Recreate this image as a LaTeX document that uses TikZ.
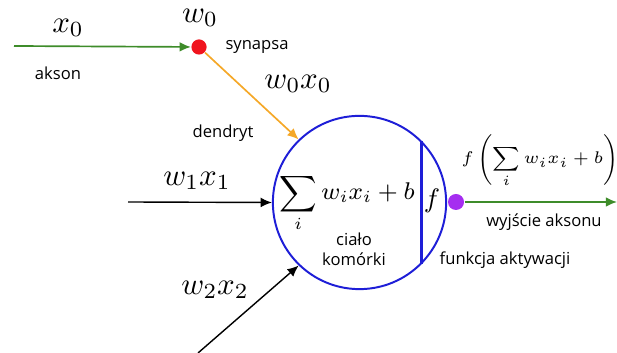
\RequirePackage{fix-cm}
\documentclass[tikz,border=0pt]{standalone}
\usepackage{amsmath}
\usepackage{fontspec}
\setsansfont{Open Sans}
\usetikzlibrary{arrows.meta}

\definecolor{axongreen}{RGB}{62,140,42}
\definecolor{dendorange}{RGB}{245,168,40}
\definecolor{cellblue}{RGB}{30,30,215}
\definecolor{synred}{RGB}{240,20,30}
\definecolor{actpurple}{RGB}{165,45,240}

\tikzset{
  dot/.style={circle, inner sep=0pt, minimum size=0.19cm},
  axon/.style={draw=axongreen, line width=0.6pt, -{Latex[length=4pt,width=3.5pt]}},
  dendrite/.style={draw=dendorange, line width=0.6pt, -{Latex[length=4pt,width=3.5pt]}},
  inarrow/.style={draw=black, line width=0.5pt, -{Latex[length=4pt,width=3.5pt]}},
  mlabel/.style={inner sep=0pt, font=\fontsize{11}{13}\selectfont},
  tlabel/.style={inner sep=0pt, font=\sffamily\fontsize{5.9}{7}\selectfont, align=center}
}

\begin{document}
\begin{tikzpicture}[x=0.0125cm, y=-0.0125cm]

    \useasboundingbox (0,0) rectangle (617,353);

    % Cialo komorki
        \node[draw=cellblue, line width=0.7pt, circle, inner sep=0pt, minimum size=2.165cm] (cell) at (359.5,202.5) {};
        \draw[draw=cellblue, line width=0.75pt] (cell.45) -- (cell.-45);
        \node[inner sep=0pt, font=\fontsize{8.6}{10}\selectfont] (sum) at (347,203) {$\displaystyle\sum_i w_i x_i + b$};
        \node[inner sep=0pt, font=\fontsize{9.5}{11}\selectfont] (act) at (432,201) {$f$};
        \node[tlabel] (body) at (354,249) {ciało\\komórki};

    % Synapsa i akson
        \node[dot, fill=synred] (syn) at (199,47) {};
        \coordinate (akstart) at (14,46);
        \draw[axon] (akstart) -- (syn);
        \node[mlabel] (x0) at (68,28) {$x_0$};
        \node[mlabel] (w0) at (200,18) {$w_0$};
        \node[tlabel] (synlab) at (257,47) {synapsa};
        \node[tlabel] (aklab) at (58,73) {akson};

    % Dendryt
        \draw[dendrite] (syn) -- (cell.134);
        \node[mlabel] (w0x0) at (298,84) {$w_0x_0$};
        \node[tlabel] (denlab) at (223,133) {dendryt};

    % Pozostale wejscia
        \coordinate (in1) at (128,202);
        \draw[inarrow] (in1) -- (cell.west);
        \node[mlabel] (w1x1) at (197,181) {$w_1x_1$};

        \coordinate (in2) at (198,353);
        \draw[inarrow] (in2) -- (cell.-134);
        \node[mlabel] (w2x2) at (215,290) {$w_2x_2$};

    % Wyjscie
        \node[dot, fill=actpurple, minimum size=0.2cm] (out) at (456,202) {};
        \coordinate (outend) at (617,202);
        \draw[axon] (out) -- (outend);
        \node[inner sep=0pt, font=\fontsize{6}{8}\selectfont] (outf) at (540,161) {$f\left(\displaystyle\sum_i w_i x_i + b\right)$};
        \node[tlabel] (outlab) at (544,222) {wyjście aksonu};
        \node[tlabel] (actlab) at (505,260) {funkcja aktywacji};

\end{tikzpicture}
\end{document}
